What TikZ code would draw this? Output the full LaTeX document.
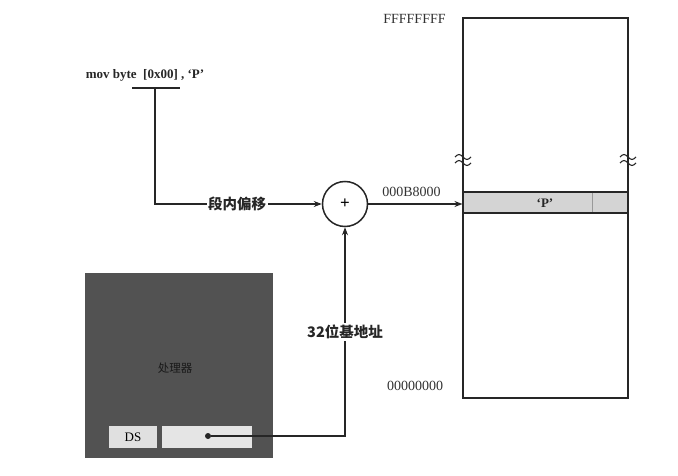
\documentclass[tikz,border=0pt]{standalone}
\usepackage{fontspec}
\setmainfont{Liberation Serif}
\newfontfamily\cjk{Noto Sans CJK SC}
\usetikzlibrary{arrows.meta,positioning}
\tikzset{
  arr/.style={draw=black!85, line width=1.1pt, -{Stealth[length=8pt,width=6pt]}},
  ln/.style={draw=black!85, line width=1.1pt},
  lab/.style={fill=white, inner sep=1.5pt, font=\cjk\bfseries\fontsize{14.5}{16}\selectfont, text=black!85},
  hex/.style={inner sep=0pt, font=\fontsize{14}{16}\selectfont, text=black!80},
}
\begin{document}
\begin{tikzpicture}[x=1pt,y=-1pt]
\useasboundingbox (0,0) rectangle (678,476);
% memory
\draw[ln] (463,18) rectangle (628,398);
\node[ln, fill=black!17, minimum width=165pt, minimum height=21pt, inner sep=0pt] (band) at (545.5,202.5) {};
\draw[draw=black!40, line width=0.6pt] (592,193) -- (592,212);
\node[inner sep=0pt, font=\bfseries\fontsize{13}{14}\selectfont, text=black!85] (pchar) at (545,203) {‘P’};
% wavy breaks
\foreach \xx in {463,628}{
  \fill[white] (\xx-9,152) rectangle (\xx+9,168);
  \draw[ln] (\xx,148) -- (\xx,172);
  \draw[ln] (\xx-8,157) sin (\xx-4,154.5) cos (\xx,157) sin (\xx+4,159.5) cos (\xx+8,157);
  \draw[ln] (\xx-8,163) sin (\xx-4,160.5) cos (\xx,163) sin (\xx+4,165.5) cos (\xx+8,163);
}
\node[hex] (ff) at (414.5,19) {FFFFFFFF};
\node[hex] (b8) at (411.5,192) {000B8000};
\node[hex] (zz) at (415,386) {00000000};
% adder
\node[circle, ln, line width=1.5pt, minimum size=45pt, inner sep=0pt, font=\bfseries\fontsize{17}{17}\selectfont] (plus) at (345,204) {+};
% instruction
\node[inner sep=0pt, font=\bfseries\fontsize{13}{14}\selectfont, text=black!85] (instr) at (145,75) {mov byte\ \ [0x00] , ‘P’};
\coordinate (brl) at (132,88);
\coordinate (brr) at (180,88);
\coordinate (brm) at (155,88);
\draw[ln] (brl) -- (brr);
\draw[arr] (brm) |- (plus.west);
\node[lab] (off) at (237,204) {段内偏移};
% processor
\node[fill=black!68, minimum width=188pt, minimum height=185pt, inner sep=0pt] (cpu) at (179,365.5) {};
\node[inner sep=0pt, font=\cjk\fontsize{11.5}{12}\selectfont, text=black!90] (cpulab) at (175,368) {处理器};
\node[fill=black!12, minimum width=48pt, minimum height=22pt, inner sep=0pt, font=\fontsize{13}{14}\selectfont] (ds) at (133,437) {DS};
\node[fill=black!10, minimum width=90pt, minimum height=22pt, inner sep=0pt] (reg) at (207,437) {};
\node[circle, fill=black!85, minimum size=6pt, inner sep=0pt] (dot) at (208,436) {};
\draw[arr] (dot) -| (plus.south);
\node[lab] (base) at (345,332) {32位基地址};
% output
\draw[arr] (plus.east) -- (plus.east -| band.west);
\end{tikzpicture}
\end{document}
